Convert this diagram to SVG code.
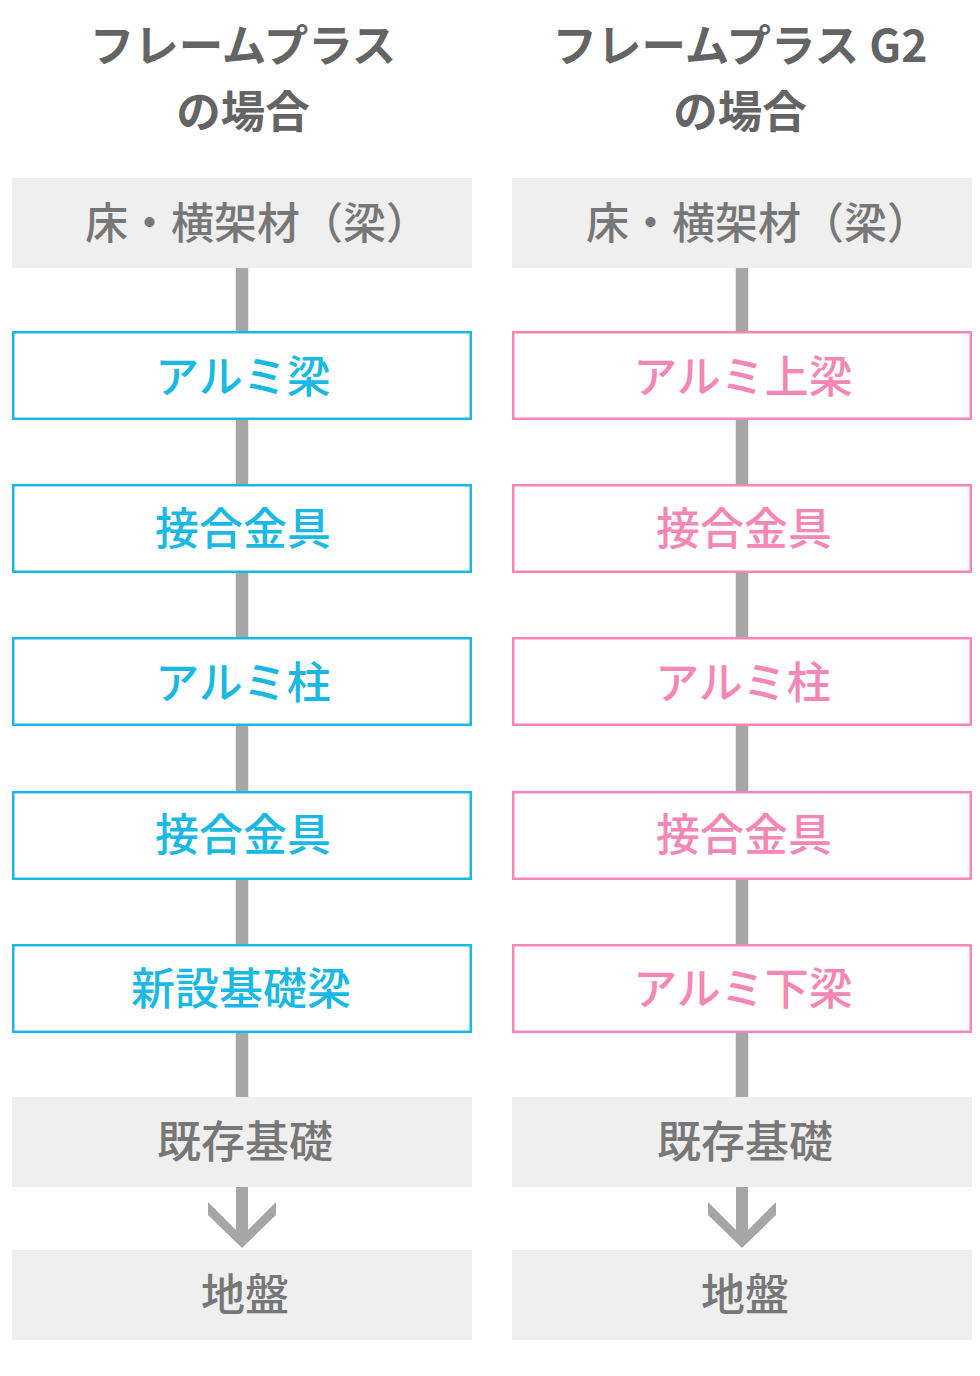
<svg xmlns="http://www.w3.org/2000/svg" width="980" height="1376" viewBox="0 0 980 1376">
<style>
text{font-family:"Noto Sans CJK JP","Noto Sans",sans-serif;text-anchor:middle}
.title{font-size:44.5px;font-weight:700;fill:#646464}
.gbox{fill:#efefef}
.glabel{font-size:44px;font-weight:500;fill:#777}
.floor{font-size:43px}
.bbox{fill:#fff;stroke:#1ab9e5;stroke-width:2.5}
.blabel{font-size:44px;font-weight:500;fill:#1ab9e5}
.pbox{fill:#fff;stroke:#f587b6;stroke-width:2.5}
.plabel{font-size:44px;font-weight:500;fill:#f587b6}
.conn{stroke:#a6a6a6;stroke-width:12.5;fill:none}
.arrow{fill:#a6a6a6}
</style>
<rect width="980" height="1376" fill="#fff"/>
<g id="connectors">
<line class="conn" x1="242" y1="268" x2="242" y2="1097"/>
<line class="conn" x1="742" y1="268" x2="742" y2="1097"/>
<path class="arrow" d="M236,1187 H248 V1230 L276,1202 V1215 L242,1248 L208,1215 V1202 L236,1230 Z"/>
<path class="arrow" d="M736,1187 H748 V1230 L776,1202 V1215 L742,1248 L708,1215 V1202 L736,1230 Z"/>
</g>
<g id="title-left">
<text class="title" x="243" y="62">フレームプラス</text>
<text class="title" x="243" y="128">の場合</text>
</g>
<g id="title-right">
<text class="title" x="740" y="62">フレームプラス G2</text>
<text class="title" x="740" y="128">の場合</text>
</g>
<g id="L-floor"><rect class="gbox" x="12" y="178" width="460" height="90"/><text class="glabel floor" x="257" y="239">床・横架材（梁）</text></g>
<g id="L-beam"><rect class="bbox" x="13.25" y="332.25" width="457.5" height="86.5"/><text class="blabel" x="243" y="393">アルミ梁</text></g>
<g id="L-joint1"><rect class="bbox" x="13.25" y="485.25" width="457.5" height="86.5"/><text class="blabel" x="243" y="545">接合金具</text></g>
<g id="L-column"><rect class="bbox" x="13.25" y="638.25" width="457.5" height="86.5"/><text class="blabel" x="243" y="699">アルミ柱</text></g>
<g id="L-joint2"><rect class="bbox" x="13.25" y="792.25" width="457.5" height="86.5"/><text class="blabel" x="243" y="851">接合金具</text></g>
<g id="L-newfound"><rect class="bbox" x="13.25" y="945.25" width="457.5" height="86.5"/><text class="blabel" x="241" y="1005">新設基礎梁</text></g>
<g id="L-existing"><rect class="gbox" x="12" y="1097" width="460" height="90"/><text class="glabel" x="245" y="1158">既存基礎</text></g>
<g id="L-ground"><rect class="gbox" x="12" y="1250" width="460" height="90"/><text class="glabel" x="245" y="1311">地盤</text></g>
<g id="R-floor"><rect class="gbox" x="512" y="178" width="460" height="90"/><text class="glabel floor" x="758" y="239">床・横架材（梁）</text></g>
<g id="R-upperbeam"><rect class="pbox" x="513.25" y="332.25" width="457.5" height="86.5"/><text class="plabel" x="743" y="393">アルミ上梁</text></g>
<g id="R-joint1"><rect class="pbox" x="513.25" y="485.25" width="457.5" height="86.5"/><text class="plabel" x="744" y="545">接合金具</text></g>
<g id="R-column"><rect class="pbox" x="513.25" y="638.25" width="457.5" height="86.5"/><text class="plabel" x="743" y="699">アルミ柱</text></g>
<g id="R-joint2"><rect class="pbox" x="513.25" y="792.25" width="457.5" height="86.5"/><text class="plabel" x="744" y="851">接合金具</text></g>
<g id="R-lowerbeam"><rect class="pbox" x="513.25" y="945.25" width="457.5" height="86.5"/><text class="plabel" x="743" y="1005">アルミ下梁</text></g>
<g id="R-existing"><rect class="gbox" x="512" y="1097" width="460" height="90"/><text class="glabel" x="745" y="1158">既存基礎</text></g>
<g id="R-ground"><rect class="gbox" x="512" y="1250" width="460" height="90"/><text class="glabel" x="745" y="1311">地盤</text></g>
</svg>
